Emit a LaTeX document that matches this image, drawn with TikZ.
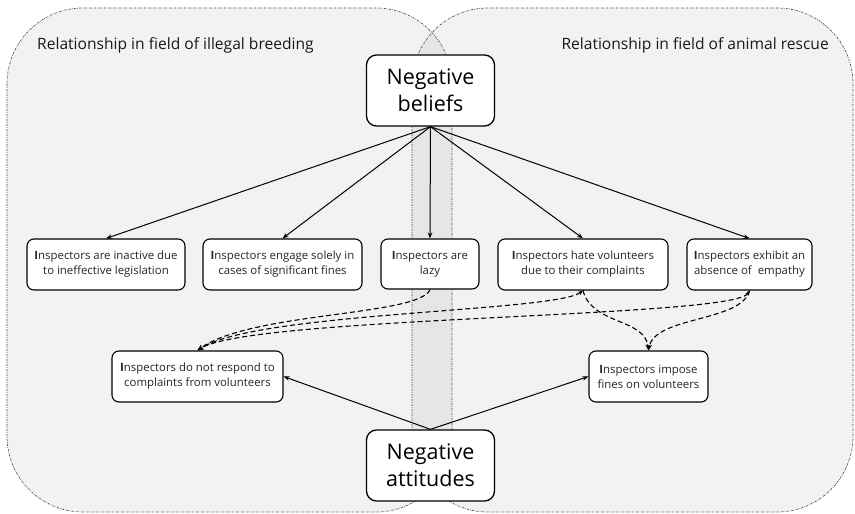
\documentclass[tikz,border=0pt]{standalone}
\usepackage{fontspec}
\setmainfont{Open Sans}
\usetikzlibrary{arrows.meta}
\tikzset{
  region/.style={draw=black!70, line width=0.7pt, dash pattern=on 2pt off 1.2pt on 0.6pt off 1.2pt, rounded corners=76pt},
  regfill/.style={fill=black, fill opacity=0.05, draw=none, rounded corners=76pt},
  box/.style={draw=black, line width=1.1pt, fill=white, rounded corners=7pt, align=center, inner sep=2pt,
    font=\fontsize{11.4}{15}\selectfont, text=black!85},
  bigbox/.style={draw=black, line width=1.3pt, fill=white, rounded corners=10pt, align=center,
    minimum width=128pt, minimum height=71pt, font=\fontsize{21.5}{27}\selectfont},
  arr/.style={-{Stealth[length=6pt,width=4.5pt]}, line width=1pt},
  darr/.style={-{Stealth[length=6pt,width=5pt]}, line width=1.1pt, dash pattern=on 5pt off 3pt},
  ddarr/.style={{Stealth[length=5pt,width=4pt]}-{Stealth[length=6pt,width=5pt]}, line width=1.1pt, dash pattern=on 5pt off 3pt},
  title/.style={font=\fontsize{15.6}{18}\selectfont, text=black!90, inner sep=0pt}
}
\newcommand{\bI}{\textbf{I}}
\begin{document}
\begin{tikzpicture}[x=1pt,y=-1pt]
\useasboundingbox (0,0) rectangle (855,514);
% regions
\fill[regfill] (7,8) rectangle (452,512);
\fill[regfill] (412,8) rectangle (853,512);
\draw[region] (7,8) rectangle (452,512);
\draw[region] (412,8) rectangle (853,512);
\node[title, anchor=west] (t1) at (37,45) {Relationship in field of illegal breeding};
\node[title, anchor=east] (t2) at (829,45) {Relationship in field of animal rescue};
% nodes
\node[bigbox] (nb) at (430.5,90.5) {Negative\\beliefs};
\node[bigbox] (na) at (430.5,465.5) {Negative\\attitudes};
\node[box, minimum width=158pt, minimum height=51pt] (b1) at (106,264.5) {\bI nspectors are inactive due\\to ineffective legislation};
\node[box, minimum width=159pt, minimum height=51pt] (b2) at (282.5,264.5) {\bI nspectors engage solely in\\cases of significant fines};
\node[box, minimum width=98pt, minimum height=50pt] (b3) at (430,264) {\bI nspectors are\\lazy};
\node[box, minimum width=170pt, minimum height=51pt] (b4) at (583,264.5) {\bI nspectors hate volunteers\\due to their complaints};
\node[box, minimum width=125pt, minimum height=51pt] (b5) at (749.5,264.5) {\bI nspectors exhibit an\\absence of\ \ empathy};
\node[box, minimum width=171pt, minimum height=51pt] (b6) at (197.5,376.5) {\bI nspectors do not respond to\\complaints from volunteers};
\node[box, minimum width=119pt, minimum height=51pt] (b7) at (648.5,376.5) {\bI nspectors impose\\fines on volunteers};
% solid arrows
\foreach \t in {b1,b2,b3,b4,b5} \draw[arr] (nb.south) -- (\t.north);
\draw[arr] (na.north) -- (b6.east);
\draw[arr] (na.north) -- (b7.west);
% dashed arrows
\draw[darr] (b3.south) .. controls (420,316) and (250,312) .. (b6.north);
\draw[ddarr] (b4.south) .. controls (555,312) and (255,312) .. (b6.north);
\draw[ddarr] (b5.south) .. controls (735,318) and (250,316) .. (b6.north);
\draw[darr] (b4.south) .. controls (592,325) and (645,318) .. (b7.north);
\draw[darr] (b5.south) .. controls (742,322) and (655,316) .. (b7.north);
\end{tikzpicture}
\end{document}
